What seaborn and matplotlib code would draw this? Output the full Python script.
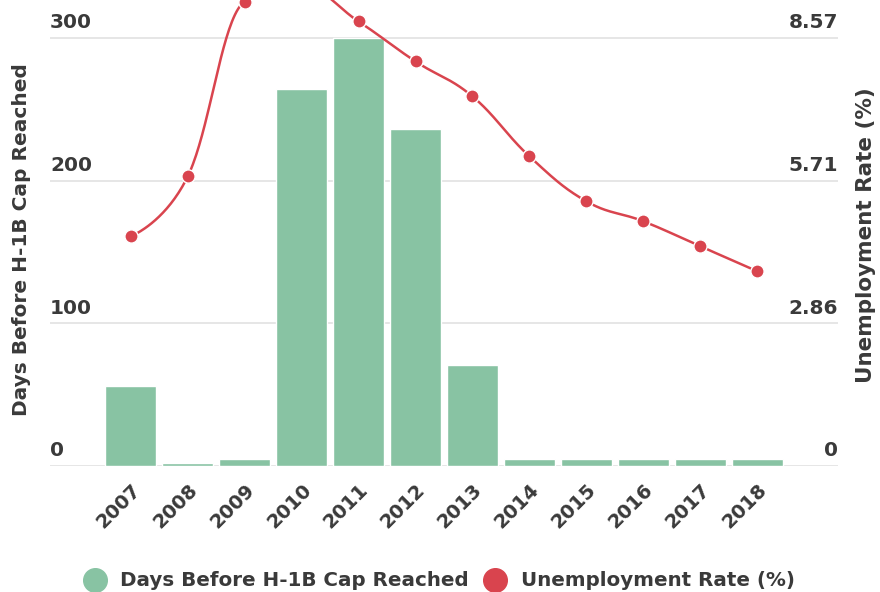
import numpy as np
import pandas as pd
import seaborn as sns
import matplotlib
matplotlib.use("Agg")
import matplotlib.pyplot as plt
from matplotlib.lines import Line2D

# -------------------------
# data
# -------------------------
years = ["2007", "2008", "2009", "2010", "2011", "2012",
         "2013", "2014", "2015", "2016", "2017", "2018"]
days_before_cap = [56, 2, 5, 264, 300, 236, 71, 5, 5, 5, 5, 5]
unemployment = [4.6, 5.8, 9.3, 9.6, 8.9, 8.1, 7.4, 6.2, 5.3, 4.9, 4.4, 3.9]

left_ticks = [0, 100, 200, 300]
right_ticks = [0, 100 / 35, 200 / 35, 300 / 35]

bar_color = "#88c3a3"
line_color = "#d9444e"
text_color = "#3a3a3a"
grid_color = "#e4e4e4"

df = pd.DataFrame({"year": years, "days": days_before_cap, "rate": unemployment})


# -------------------------
# spline like the original (smoothing 1.5, no overshoot)
# -------------------------
def spline_path(x, y, smoothing=1.5, n=40):
    x = np.asarray(x, float)
    y = np.asarray(y, float)
    k = len(x)
    lcx, lcy, rcx, rcy = x.copy(), y.copy(), x.copy(), y.copy()
    d = smoothing + 1
    for i in range(1, k - 1):
        lx = (smoothing * x[i] + x[i - 1]) / d
        ly = (smoothing * y[i] + y[i - 1]) / d
        rx = (smoothing * x[i] + x[i + 1]) / d
        ry = (smoothing * y[i] + y[i + 1]) / d
        corr = (ry - ly) * (rx - x[i]) / (rx - lx) + y[i] - ry
        ly += corr
        ry += corr
        if ly > y[i - 1] and ly > y[i]:
            ly = max(y[i - 1], y[i]); ry = 2 * y[i] - ly
        elif ly < y[i - 1] and ly < y[i]:
            ly = min(y[i - 1], y[i]); ry = 2 * y[i] - ly
        if ry > y[i + 1] and ry > y[i]:
            ry = max(y[i + 1], y[i]); ly = 2 * y[i] - ry
        elif ry < y[i + 1] and ry < y[i]:
            ry = min(y[i + 1], y[i]); ly = 2 * y[i] - ry
        lcx[i], lcy[i], rcx[i], rcy[i] = lx, ly, rx, ry
    t = np.linspace(0, 1, n)[:, None]
    xs, ys = [], []
    for i in range(k - 1):
        px = np.array([x[i], rcx[i], lcx[i + 1], x[i + 1]])
        py = np.array([y[i], rcy[i], lcy[i + 1], y[i + 1]])
        b = np.hstack([(1 - t) ** 3, 3 * (1 - t) ** 2 * t, 3 * (1 - t) * t ** 2, t ** 3])
        xs.append(b @ px)
        ys.append(b @ py)
    return np.concatenate(xs), np.concatenate(ys)


# -------------------------
# figure
# -------------------------
sns.set_style("white")
plt.rcParams["font.family"] = ["DejaVu Sans"]
plt.rcParams["font.weight"] = "bold"

fig = plt.figure(figsize=(8.8, 5.92), dpi=100)
top_days = 340
ax = fig.add_axes([50 / 880, 126 / 592, 788 / 880, (top_days * 1.427) / 592])

sns.barplot(data=df, x="year", y="days", color=bar_color, width=0.9,
            saturation=1, ax=ax, zorder=2)
ax.set_xlim(-1.42, 12.42)
ax.set_ylim(0, top_days)
ax.set_yticks(left_ticks)
ax.set_yticklabels([])
ax.grid(axis="y", color=grid_color, linewidth=1.3, zorder=0)
ax.set_axisbelow(True)
for s in ax.spines.values():
    s.set_visible(False)
ax.tick_params(axis="both", length=0)
ax.set_xlabel("")
ax.set_ylabel("")
plt.setp(ax.get_xticklabels(), rotation=45, ha="right", rotation_mode="anchor",
         fontsize=14, fontweight="bold", color=text_color)
ax.tick_params(axis="x", pad=10)

for v in left_ticks:
    ax.annotate(f"{v}", xy=(0, v), xycoords=ax.get_yaxis_transform(),
                xytext=(0, 4), textcoords="offset points", ha="left", va="bottom",
                fontsize=14.5, fontweight="bold", color=text_color)

ax2 = ax.twinx()
ax2.set_ylim(0, top_days / 35)
ax2.set_yticks(right_ticks)
ax2.set_yticklabels([])
ax2.tick_params(axis="both", length=0)
for s in ax2.spines.values():
    s.set_visible(False)
ax2.grid(False)
for v in right_ticks:
    ax2.annotate(f"{v:.2f}" if v else "0", xy=(1, v), xycoords=ax2.get_yaxis_transform(),
                 xytext=(0, 4), textcoords="offset points", ha="right", va="bottom",
                 fontsize=14.5, fontweight="bold", color=text_color)

pos = np.arange(len(years))
sx, sy = spline_path(pos, unemployment)
ax2.plot(sx, sy, color=line_color, linewidth=1.8, zorder=3)
sns.scatterplot(x=pos, y=unemployment, ax=ax2, color=line_color, s=90,
                edgecolor="white", linewidth=1, zorder=4, legend=False)

fig.text(22 / 880, 1 - 240 / 592, "Days Before H-1B Cap Reached", rotation=90,
         ha="center", va="center", fontsize=14.5, fontweight="bold", color=text_color)
fig.text(866 / 880, 1 - 235 / 592, "Unemployment Rate (%)", rotation=90,
         ha="center", va="center", fontsize=15.5, fontweight="bold", color=text_color)

handles = [
    Line2D([], [], linestyle="none", marker="o", markersize=17, color=bar_color),
    Line2D([], [], linestyle="none", marker="o", markersize=17, color=line_color),
]
leg = fig.legend(handles, ["Days Before H-1B Cap Reached", "Unemployment Rate (%)"],
                 loc="center", bbox_to_anchor=(0.494, 1 - 581 / 592), ncol=2,
                 frameon=False, handletextpad=0.3, columnspacing=0.3,
                 prop={"size": 14.3, "weight": "bold"})
for t in leg.get_texts():
    t.set_color(text_color)

fig.savefig("out.png", dpi=100)
